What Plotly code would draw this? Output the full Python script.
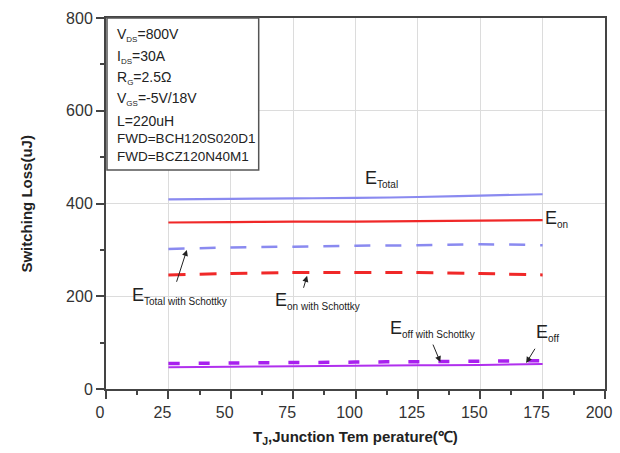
import plotly.graph_objects as go

# Junction temperature sample points (°C)
temps = [25, 50, 75, 100, 125, 150, 175]

# Switching losses (uJ)
e_total = [409, 410, 411, 412, 414, 417, 420]
e_on = [359, 360, 361, 361, 362, 363, 364]
e_total_sch = [302, 305, 307, 309, 310, 312, 310]
e_on_sch = [246, 249, 251, 251, 251, 249, 246]
e_off = [47, 48, 49, 50, 51, 52, 54]
e_off_sch = [55, 56, 57, 58, 59, 60, 61]

x_ticks = [0, 25, 50, 75, 100, 125, 150, 175, 200]
y_ticks = [0, 200, 400, 600, 800]

SUB = "<sub><span style='font-size:8px'>%s</span></sub>"
cond_lines = [
    "V" + SUB % "DS" + "=800V",
    "I" + SUB % "DS" + "=30A",
    "R" + SUB % "G" + "=2.5Ω",
    "V" + SUB % "GS" + "=-5V/18V",
    "L=220uH",
    "FWD=BCH120S020D1",
    "FWD=BCZ120N40M1",
]

BLUE = "#8a8af0"
RED = "#f02828"
PURPLE = "#b030ee"
PURPLE_D = "#a820ee"

fig = go.Figure()
fig.add_trace(go.Scatter(x=temps, y=e_total, mode="lines",
                         line=dict(color=BLUE, width=2.2), line_shape="spline"))
fig.add_trace(go.Scatter(x=temps, y=e_on, mode="lines",
                         line=dict(color=RED, width=2.2), line_shape="spline"))
fig.add_trace(go.Scatter(x=temps, y=e_total_sch, mode="lines",
                         line=dict(color=BLUE, width=2.5, dash="16px,15px"), line_shape="spline"))
fig.add_trace(go.Scatter(x=temps, y=e_on_sch, mode="lines",
                         line=dict(color=RED, width=3, dash="17px,14px"), line_shape="spline"))
fig.add_trace(go.Scatter(x=temps, y=e_off, mode="lines",
                         line=dict(color=PURPLE, width=2), line_shape="spline"))
fig.add_trace(go.Scatter(x=temps, y=e_off_sch, mode="lines",
                         line=dict(color=PURPLE_D, width=3.5, dash="11px,19px"), line_shape="spline"))

ann = []

# Test-condition box
fig.add_shape(type="rect", xref="paper", yref="paper", x0=0.002, x1=0.306, y0=0.59, y1=1.0,
              line=dict(color="#555555", width=1.5), fillcolor="white", layer="above")
line_pos = [35, 57, 78, 99, 121, 138, 156]
for txt, py in zip(cond_lines, line_pos):
    size = 14 if not txt.startswith("FWD") else 13.5
    ann.append(dict(text=txt, xref="paper", yref="paper",
                    x=(115 - 106) / 506, y=(389 - py) / 371,
                    xanchor="left", yanchor="middle", showarrow=False,
                    font=dict(family="Liberation Sans, Arial", size=size, color="#222222")))

# Curve labels
def curve_label(text, x, y):
    ann.append(dict(text="E<sub><span style='font-size:10px'>%s</span></sub>" % text,
                    x=x, y=y, xref="x", yref="y", xanchor="left", yanchor="middle",
                    showarrow=False,
                    font=dict(family="Liberation Sans, Arial", size=18, color="#222222")))

curve_label("Total", 103, 452)
curve_label("on", 175, 367)
curve_label("Total with Schottky", 9.5, 200)
curve_label("on with Schottky", 67, 190)
curve_label("off with Schottky", 113, 130)
curve_label("off", 171.5, 120)

# Pointer arrows
arrows = [
    ((28.1, 228), (32.4, 300)),
    ((79.0, 215), (80.6, 244)),
    ((130.8, 99), (134.0, 58)),
    ((172.3, 90), (168.4, 56)),
]
for (tx, ty), (hx, hy) in arrows:
    ann.append(dict(x=hx, y=hy, ax=tx, ay=ty, xref="x", yref="y", axref="x", ayref="y",
                    text="", showarrow=True, arrowhead=2, arrowsize=1.2, arrowwidth=1,
                    arrowcolor="#222222"))

# Axis titles
ann.append(dict(text="T<sub>J</sub>,Junction Tem perature(℃)", xref="paper", yref="paper",
                x=0.5, y=(389 - 437) / 371, xanchor="center", yanchor="middle", showarrow=False,
                font=dict(family="Liberation Sans, Arial", size=15, color="#222222", weight="bold")))
ann.append(dict(text="Switching Loss(uJ)", xref="paper", yref="paper",
                x=(25 - 106) / 506, y=0.5, xanchor="center", yanchor="middle", showarrow=False,
                textangle=-90,
                font=dict(family="Liberation Sans, Arial", size=15, color="#222222", weight="bold")))

axis_common = dict(
    showline=True, linecolor="#444444", linewidth=2, mirror=True,
    ticks="outside", ticklen=8, tickwidth=1.5, tickcolor="#444444",
    showgrid=True, gridcolor="#dcdcdc", gridwidth=1.2, zeroline=False,
    tickfont=dict(family="Liberation Sans, Arial", size=16, color="#333333"),
)

fig.update_xaxes(range=[0, 200], tickvals=x_ticks, ticktext=[str(v) for v in x_ticks],
                 ticklabelshift=-6,
                 minor=dict(dtick=12.5, ticks="outside", ticklen=4, tickcolor="#444444",
                            showgrid=False),
                 **axis_common)
fig.update_yaxes(range=[0, 800], tickvals=y_ticks, ticktext=[str(v) for v in y_ticks],
                 minor=dict(dtick=100, ticks="outside", ticklen=4, tickcolor="#444444",
                            showgrid=False),
                 **axis_common)

fig.update_layout(
    width=620, height=453,
    margin=dict(l=106, r=8, t=18, b=64),
    plot_bgcolor="white", paper_bgcolor="white",
    showlegend=False,
    annotations=ann,
)

fig.write_html("out.html")
